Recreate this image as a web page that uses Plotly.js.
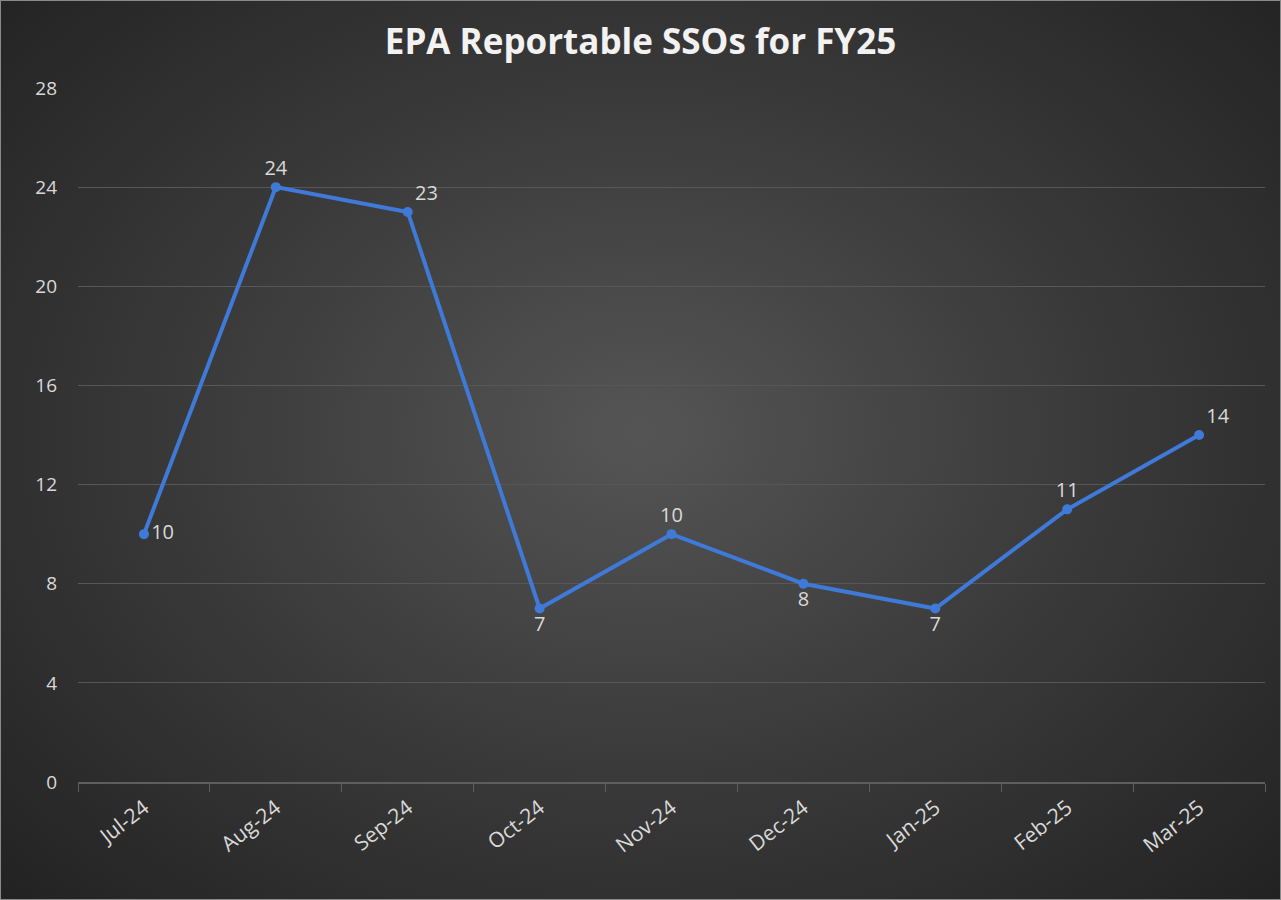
<!DOCTYPE html>
<html>
<head>
<meta charset="utf-8">
<script src="https://cdn.plot.ly/plotly-3.0.1.min.js"></script>
<style>
  html, body { margin: 0; padding: 0; }
  body { width: 1281px; height: 900px; overflow: hidden; }
  #wrap {
    position: absolute; left: 0; top: 0; width: 1279px; height: 898px;
    border: 1px solid #8a8a8a;
    background: radial-gradient(ellipse 70% 75% at 50% 48%, #555555 0%, #3a3a3a 50%, #222222 100%);
  }
  #chart { width: 1279px; height: 898px; }
</style>
</head>
<body>
<div id="wrap"><div id="chart"></div></div>
<script>
const months = ["Jul-24","Aug-24","Sep-24","Oct-24","Nov-24","Dec-24","Jan-25","Feb-25","Mar-25"];
const ssoCounts = [10, 24, 23, 7, 10, 8, 7, 11, 14];
const labelPositions = ["middle right","top center","top right","bottom center","top center","bottom center","bottom center","top center","top right"];
const yTicks = [0, 4, 8, 12, 16, 20, 24, 28];

const trace = {
  x: months,
  y: ssoCounts,
  type: "scatter",
  mode: "lines+markers+text",
  text: ssoCounts.map(String),
  textposition: labelPositions,
  textfont: { family: "Open Sans, sans-serif", size: 20, color: "#d9d9d9" },
  line: { color: "#3f7ad9", width: 4 },
  marker: { color: "#3f7ad9", size: 10 },
  hoverinfo: "x+y",
  cliponaxis: false
};

const layout = {
  width: 1279, height: 898,
  paper_bgcolor: "rgba(0,0,0,0)",
  plot_bgcolor: "rgba(0,0,0,0)",
  margin: { l: 77, r: 15, t: 87, b: 117 },
  showlegend: false,
  title: {
    text: "<b>EPA Reportable SSOs for FY25</b>",
    font: { family: "Open Sans, sans-serif", size: 35, color: "#f2f2f2" },
    x: 0.5, xanchor: "center", y: 0.955, yanchor: "middle"
  },
  xaxis: {
    type: "category",
    range: [-0.5, 8.5],
    showgrid: false,
    showline: true,
    linecolor: "#5e5e5e",
    linewidth: 1.5,
    ticks: "outside",
    tickson: "boundaries",
    ticklen: 8,
    tickcolor: "#5e5e5e",
    tickangle: -38,
    ticklabelstandoff: 4,
    tickfont: { family: "Open Sans, sans-serif", size: 21, color: "#d9d9d9" },
    zeroline: false,
    fixedrange: true
  },
  yaxis: {
    range: [0, 28],
    tickvals: yTicks,
    ticktext: yTicks.map(String),
    showgrid: true,
    gridcolor: "#575757",
    gridwidth: 1,
    zeroline: false,
    showline: false,
    ticks: "",
    ticklabelstandoff: 20,
    tickfont: { family: "Open Sans, sans-serif", size: 19, color: "#d9d9d9" },
    fixedrange: true
  }
};

Plotly.newPlot("chart", [trace], layout, { displayModeBar: false, staticPlot: true });
</script>
</body>
</html>
